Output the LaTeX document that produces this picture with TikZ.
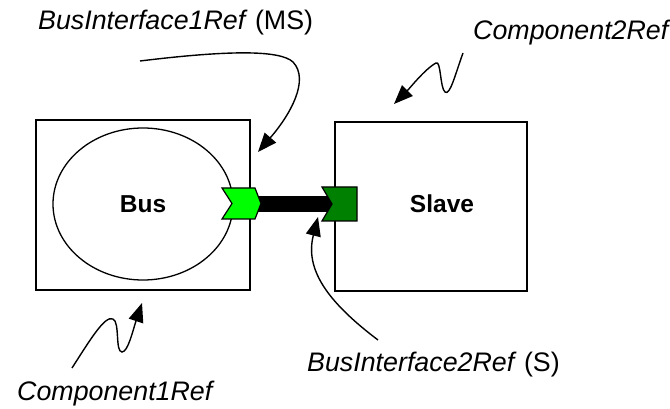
\documentclass[tikz,border=0pt]{standalone}
\usepackage{fontspec}
\setmainfont{Liberation Sans}
\usetikzlibrary{arrows.meta,shapes.geometric}
\definecolor{portlight}{RGB}{0,255,0}
\definecolor{portdark}{RGB}{0,128,0}
\begin{document}
\begin{tikzpicture}[x=1pt,y=-1pt,
  comp/.style={draw, line width=1.5pt, rectangle, inner sep=0pt, outer sep=0pt},
  ref/.style={font=\fontsize{26.8}{30}\selectfont, anchor=base west, inner sep=0pt},
  label/.style={font=\fontsize{24.5}{28}\selectfont\bfseries, inner sep=0pt},
  pointer/.style={line width=1.4pt, -{Triangle[length=19pt,width=15pt]}},
  port/.style={draw, line width=1.2pt, line join=miter}]
\useasboundingbox (0,0) rectangle (670,409);

% components
\node[comp, minimum width=214pt, minimum height=170pt] (comp1) at (143,205) {};
\node[comp, minimum width=192pt, minimum height=169pt] (comp2) at (431,206.5) {};
\node[draw, ellipse, line width=1.3pt, minimum width=180pt, minimum height=152pt,
      inner sep=0pt, label] (bus) at (143,204) {Bus};
\node[label] (slave) at (442,204) {Slave};

% bus interface ports and the connection between them
\coordinate (p1) at (257,204);
\coordinate (p2) at (333,204);
\draw[line width=16pt] (p1) -- (p2);
\draw[port, fill=portdark] (322,187) -- (357,187) -- (357,221) -- (322,221) -- (332,204) -- cycle;
\draw[port, fill=portlight] (222,188) -- (255,188) -- (261,203.5) -- (255,219) -- (222,219) -- (232,203.5) -- cycle;

% reference labels
\node[ref] (bi1) at (38,30) {\textit{BusInterface1Ref} (MS)};
\node[ref] (c2) at (473,40) {\textit{Component2Ref}};
\node[ref] (c1) at (17,400) {\textit{Component1Ref}};
\node[ref] (bi2) at (307,371) {\textit{BusInterface2Ref} (S)};

% pointers from labels to targets
\coordinate (s1) at (140,61);
\coordinate (t1) at (258,152);
\draw[pointer] (s1) .. controls (230,50) and (280,50) .. (293,62)
  .. controls (310,80) and (290,115) .. (t1);

\coordinate (s2) at (463,53);
\coordinate (t2) at (394,104);
\draw[pointer] (s2) .. controls (455,75) and (450,96) .. (445,92)
  .. controls (440,88) and (441,60) .. (436,63)
  .. controls (425,69) and (410,88) .. (t2);

\coordinate (s3) at (72,368);
\coordinate (t3) at (142,303);
\draw[pointer] (s3) .. controls (90,340) and (105,315) .. (113,319)
  .. controls (120,322) and (115,352) .. (122,352)
  .. controls (128,352) and (133,330) .. (t3);

\coordinate (s4) at (378,340);
\coordinate (t4) at (318,217);
\draw[pointer] (s4) .. controls (325,300) and (305,268) .. (t4);
\end{tikzpicture}
\end{document}
